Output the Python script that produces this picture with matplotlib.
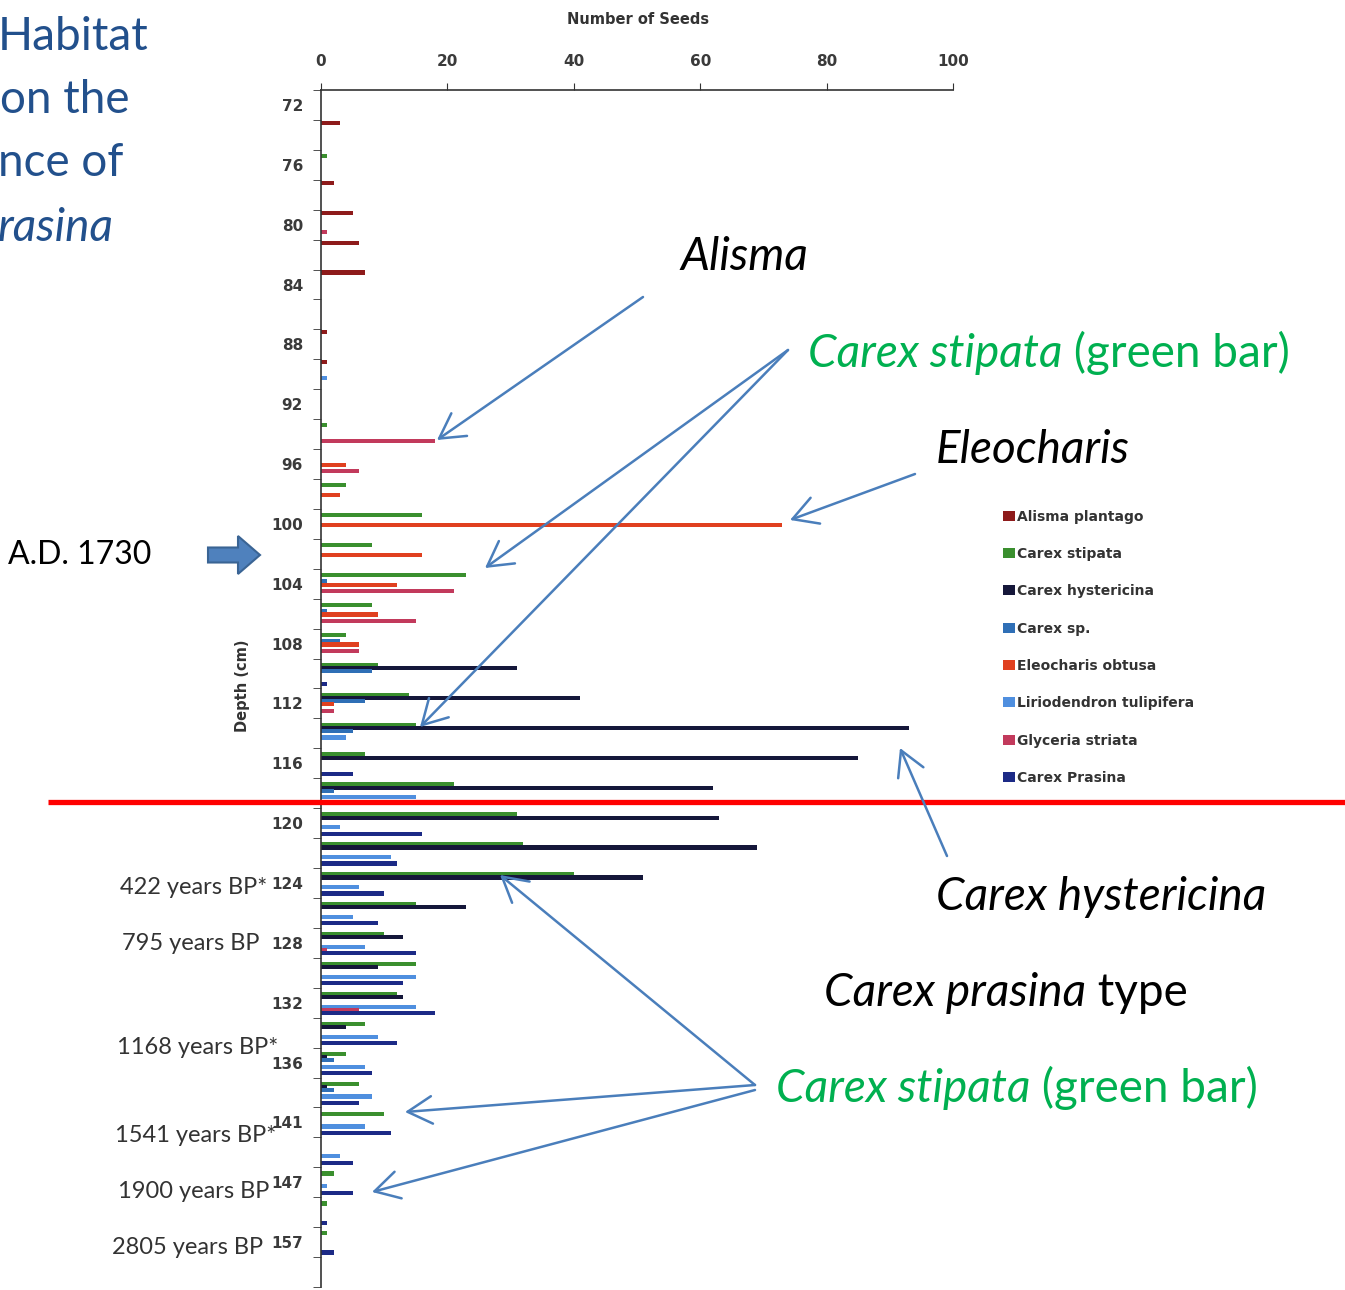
import numpy as np
import matplotlib
matplotlib.use('Agg')
import matplotlib.pyplot as plt
from matplotlib.patches import FancyArrow

# depth categories (cm); only every second one is labelled on the axis
depths = ['72', '74', '76', '78', '80', '82', '84', '86', '88', '90',
          '92', '94', '96', '98', '100', '102', '104', '106', '108', '110',
          '112', '114', '116', '118', '120', '122', '124', '126', '128', '130',
          '132', '134', '136', '138', '141', '144', '147', '152', '157', '162']

# number of seeds per depth, one list per taxon
alisma =       [0, 3, 0, 2, 5, 6, 7, 0, 1, 1,  0, 0, 0, 0, 0, 0, 0, 0, 0, 0,
                0, 0, 0, 0, 0, 0, 0, 0, 0, 0,  0, 0, 0, 0, 0, 0, 0, 0, 0, 0]
stipata =      [0, 0, 1, 0, 0, 0, 0, 0, 0, 0,  0, 1, 0, 4, 16, 8, 23, 8, 4, 9,
                14, 15, 7, 21, 31, 32, 40, 15, 10, 15,  12, 7, 4, 6, 10, 0, 2, 1, 1, 0]
hystericina =  [0, 0, 0, 0, 0, 0, 0, 0, 0, 0,  0, 0, 0, 0, 0, 0, 0, 0, 0, 31,
                41, 93, 85, 62, 63, 69, 51, 23, 13, 9,  13, 4, 1, 1, 0, 0, 0, 0, 0, 0]
carex_sp =     [0, 0, 0, 0, 0, 0, 0, 0, 0, 0,  0, 0, 0, 0, 0, 0, 1, 1, 3, 8,
                7, 5, 0, 2, 0, 0, 0, 0, 0, 0,  0, 0, 2, 2, 0, 0, 0, 0, 0, 0]
eleocharis =   [0, 0, 0, 0, 0, 0, 0, 0, 0, 0,  0, 0, 4, 3, 73, 16, 12, 9, 6, 0,
                2, 0, 0, 0, 0, 0, 0, 0, 0, 0,  0, 0, 0, 0, 0, 0, 0, 0, 0, 0]
liriodendron = [0, 0, 0, 0, 0, 0, 0, 0, 0, 1,  0, 0, 0, 0, 0, 0, 0, 0, 0, 0,
                0, 4, 0, 15, 3, 11, 6, 5, 7, 15,  15, 9, 7, 8, 7, 3, 1, 0, 0, 0]
glyceria =     [0, 0, 0, 0, 1, 0, 0, 0, 0, 0,  0, 18, 6, 0, 0, 0, 21, 15, 6, 0,
                2, 0, 0, 0, 0, 0, 0, 0, 1, 0,  6, 0, 0, 0, 0, 0, 0, 0, 0, 0]
prasina =      [0, 0, 0, 0, 0, 0, 0, 0, 0, 0,  0, 0, 0, 0, 0, 0, 0, 0, 0, 1,
                0, 0, 5, 0, 16, 12, 10, 9, 15, 13,  18, 12, 8, 6, 11, 5, 5, 1, 2, 0]

names = ['Alisma plantago', 'Carex stipata', 'Carex hystericina', 'Carex sp.',
         'Eleocharis obtusa', 'Liriodendron tulipifera', 'Glyceria striata', 'Carex Prasina']
series = [alisma, stipata, hystericina, carex_sp, eleocharis, liriodendron, glyceria, prasina]
colors = ['#8e1b1b', '#3a8f2e', '#15173a', '#2f6fb6', '#e0401f', '#4f8fdf', '#c23a5c', '#1c2a86']

age_labels = [('422 years BP*', 120, 888), ('795 years BP', 122, 944),
              ('1168 years BP*', 117, 1048), ('1541 years BP*', 115, 1136),
              ('1900 years BP', 118, 1192), ('2805 years BP', 112, 1247)]

W, H = 1345, 1290
fig = plt.figure(figsize=(W / 100, H / 100), dpi=100)
ax = fig.add_axes([321 / W, 3 / H, 632 / W, 1197 / H])

y = np.arange(len(depths))
handles = []
for k, (name, vals, col) in enumerate(zip(names, series, colors)):
    b = ax.barh(y - 0.4 + 0.107 * k, vals, height=0.14, color=col, linewidth=0, label=name)
    handles.append(b)

ax.set_xlim(0, 100)
ax.set_ylim(len(depths) - 0.5, -0.5)
ax.xaxis.tick_top()
ax.set_xticks(range(0, 101, 20))
ax.set_yticks(y[::2])
ax.set_yticklabels(depths[::2])
ax.set_yticks(np.arange(-0.5, len(depths), 1), minor=True)
ax.tick_params(axis='y', which='major', length=0, pad=13)
ax.tick_params(axis='y', which='minor', length=6, direction='out', color='#333333')
ax.tick_params(axis='x', length=5, pad=10, color='#333333')
for lbl in ax.get_xticklabels() + ax.get_yticklabels():
    lbl.set_fontweight('bold')
    lbl.set_fontsize(11)
    lbl.set_color('#3a3a3a')
for s in ['bottom', 'right']:
    ax.spines[s].set_visible(False)
for s in ['top', 'left']:
    ax.spines[s].set_color('#333333')
    ax.spines[s].set_linewidth(1.2)

fig.legend(handles=handles, loc='upper left', bbox_to_anchor=(991 / W, 1 - 497 / H),
           frameon=False, handlelength=0.85, handleheight=0.75, handletextpad=0.15,
           labelspacing=1.68, prop={'weight': 'bold', 'size': 10}, labelcolor='#333333')

# overlay in pixel coordinates for the slide annotations
oax = fig.add_axes([0, 0, 1, 1], zorder=5)
oax.set_xlim(0, W)
oax.set_ylim(H, 0)
oax.axis('off')

oax.text(638, 20, 'Number of Seeds', ha='center', va='center', fontsize=10.5,
         fontweight='bold', color='#333333')
oax.text(243, 686, 'Depth (cm)', ha='center', va='center', rotation=90, fontsize=10.5,
         fontweight='bold', color='#333333')

title_col = '#22508c'
oax.text(-2, 37, 'Habitat', fontsize=33, family='Lato', color=title_col, va='center')
oax.text(0, 100, 'on the', fontsize=33, family='Lato', color=title_col, va='center')
oax.text(-2, 163, 'nce of', fontsize=33, family='Lato', color=title_col, va='center')
oax.text(-2, 228, 'rasina', fontsize=33, family='Lato', style='italic', color=title_col, va='center')

oax.text(8, 555, 'A.D. 1730', fontsize=23, family='Lato', color='black', va='center')
oax.add_patch(FancyArrow(208, 555, 52, 0, width=15, head_width=38, head_length=22,
                         length_includes_head=True, fc='#4f81bd', ec='#3a6494', lw=1.5))

oax.plot([48, W], [802, 802], color='#ff0000', lw=3.8, solid_capstyle='butt')

for txt, x0, yc in age_labels:
    oax.text(x0, yc, txt, fontsize=17, family='Lato', color='#333333', va='center')

renderer = fig.canvas.get_renderer()


def two_part(x0, yc, first, second, color, size):
    t = oax.text(x0, yc, first, fontsize=size, family='Lato', style='italic',
                 color=color, va='baseline')
    bb = t.get_window_extent(renderer)
    x1 = oax.transData.inverted().transform((bb.x1, bb.y0))[0]
    oax.text(x1, yc, second, fontsize=size, family='Lato', color=color, va='baseline')


green = '#00b050'
ann = 33
oax.text(680, 270, 'Alisma', fontsize=ann, family='Lato', style='italic', va='baseline')
two_part(808, 367, 'Carex stipata', ' (green bar)', green, ann)
oax.text(936, 463, 'Eleocharis', fontsize=ann, family='Lato', style='italic', va='baseline')
oax.text(936, 910, 'Carex hystericina', fontsize=ann, family='Lato', style='italic', va='baseline')
two_part(824, 1006, 'Carex prasina', ' type', 'black', ann)
two_part(776, 1102, 'Carex stipata', ' (green bar)', green, ann)

arrows = [((643, 297), (437, 440)), ((788, 350), (485, 568)), ((788, 350), (420, 727)),
          ((915, 474), (790, 520)), ((947, 856), (900, 748)), ((755, 1085), (500, 875)),
          ((755, 1085), (405, 1112)), ((755, 1090), (372, 1192))]
for tail, head in arrows:
    oax.annotate('', xy=head, xytext=tail,
                 arrowprops=dict(arrowstyle='->,head_length=0.8,head_width=0.45',
                                 color='#4a7ebb', lw=1.8, mutation_scale=22,
                                 shrinkA=0, shrinkB=0))

fig.savefig('out.png', dpi=100)
